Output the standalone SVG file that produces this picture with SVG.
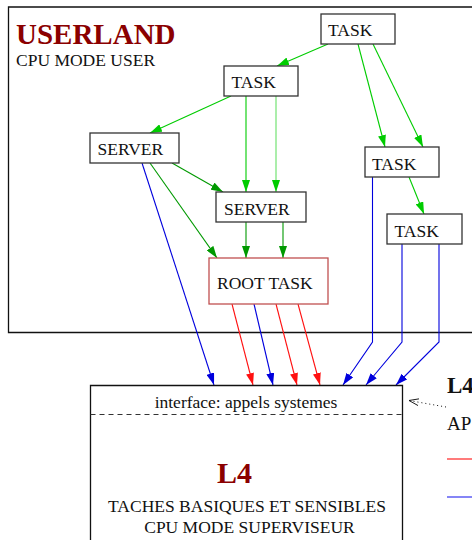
<svg xmlns="http://www.w3.org/2000/svg" width="472" height="540" viewBox="0 0 472 540">
<style>
text{font-family:"Liberation Serif","Times New Roman",serif;fill:#111}
.lbl{font-size:17.5px}
.box{fill:#fff;stroke:#333;stroke-width:1.3}
.title{font-weight:bold;fill:#8b0000}
.e{fill:none;stroke-width:1.1}
.g{stroke:#00cc00}
.lg{stroke:#66e066}
.dg{stroke:#009900}
.b{stroke:#0000dd}
.r{stroke:#ff1010}
</style>
<defs>
<marker id="ag" viewBox="0 0 12 8" refX="12" refY="4" markerWidth="12" markerHeight="8" markerUnits="userSpaceOnUse" orient="auto"><path d="M0,0L12,4L0,8z" fill="#00cc00"/></marker>
<marker id="alg" viewBox="0 0 12 8" refX="12" refY="4" markerWidth="12" markerHeight="8" markerUnits="userSpaceOnUse" orient="auto"><path d="M0,0L12,4L0,8z" fill="#44dd44"/></marker>
<marker id="adg" viewBox="0 0 12 8" refX="12" refY="4" markerWidth="12" markerHeight="8" markerUnits="userSpaceOnUse" orient="auto"><path d="M0,0L12,4L0,8z" fill="#009900"/></marker>
<marker id="ab" viewBox="0 0 12 8" refX="12" refY="4" markerWidth="12" markerHeight="8" markerUnits="userSpaceOnUse" orient="auto"><path d="M0,0L12,4L0,8z" fill="#0000dd"/></marker>
<marker id="ar" viewBox="0 0 12 8" refX="12" refY="4" markerWidth="12" markerHeight="8" markerUnits="userSpaceOnUse" orient="auto"><path d="M0,0L12,4L0,8z" fill="#ff1010"/></marker>
<marker id="aopen" viewBox="0 0 10 8" refX="10" refY="4" markerWidth="10" markerHeight="8" markerUnits="userSpaceOnUse" orient="auto"><path d="M0,0.5L10,4L0,7.5" fill="none" stroke="#111" stroke-width="0.9"/></marker>
</defs>

<g id="userland">
<path d="M472,7H8.5V332.5H472" fill="none" stroke="#111" stroke-width="1.3"/>
<text x="16" y="44" class="title" font-size="29">USERLAND</text>
<text x="16" y="65.5" class="lbl">CPU MODE USER</text>
</g>

<g id="connectors">
<line class="e g" x1="328" y1="44" x2="277" y2="66" marker-end="url(#ag)"/>
<line class="e g" x1="358" y1="44" x2="385" y2="147" marker-end="url(#ag)"/>
<line class="e g" x1="373" y1="44" x2="423" y2="147" marker-end="url(#ag)"/>
<line class="e g" x1="231" y1="96" x2="150" y2="133" marker-end="url(#ag)"/>
<line class="e g" x1="246" y1="96" x2="246" y2="192" marker-end="url(#ag)"/>
<line class="e lg" x1="276" y1="96" x2="276" y2="192" marker-end="url(#ag)"/>
<line class="e dg" x1="172" y1="163" x2="223" y2="192" marker-end="url(#adg)"/>
<line class="e dg" x1="150" y1="163" x2="217" y2="258" marker-end="url(#adg)"/>
<line class="e dg" x1="246" y1="222" x2="246" y2="258" marker-end="url(#adg)"/>
<line class="e dg" x1="283" y1="222" x2="283" y2="258" marker-end="url(#adg)"/>
<line class="e g" x1="409" y1="177" x2="424" y2="214" marker-end="url(#ag)"/>
<line class="e b" x1="142" y1="163" x2="214" y2="385" marker-end="url(#ab)"/>
<line class="e r" x1="232" y1="304" x2="253" y2="385" marker-end="url(#ar)"/>
<line class="e b" x1="254" y1="304" x2="273" y2="385" marker-end="url(#ab)"/>
<line class="e r" x1="276" y1="304" x2="297" y2="385" marker-end="url(#ar)"/>
<line class="e r" x1="298" y1="304" x2="320" y2="385" marker-end="url(#ar)"/>
<polyline class="e b" points="372.5,177 372.5,342 343,385" marker-end="url(#ab)"/>
<polyline class="e b" points="402,244 402,342 366,385" marker-end="url(#ab)"/>
<polyline class="e b" points="439,244 439,342 396,385" marker-end="url(#ab)"/>
<line x1="446" y1="407" x2="409" y2="400.5" fill="none" stroke="#111" stroke-width="1" stroke-dasharray="1,3" marker-end="url(#aopen)"/>
</g>

<g id="task1"><rect class="box" x="321" y="14" width="74" height="30"/><text x="328" y="36" class="lbl">TASK</text></g>
<g id="task2"><rect class="box" x="224" y="66" width="74" height="30"/><text x="231.5" y="88" class="lbl">TASK</text></g>
<g id="server1"><rect class="box" x="90" y="133" width="89" height="30"/><text x="97.5" y="155" class="lbl">SERVER</text></g>
<g id="server2"><rect class="box" x="216" y="192" width="90" height="30"/><text x="224" y="215" class="lbl">SERVER</text></g>
<g id="roottask"><rect x="209" y="258" width="119" height="46" fill="#fff" stroke="#c05050" stroke-width="1.3"/><text x="217" y="289" class="lbl">ROOT TASK</text></g>
<g id="task3"><rect class="box" x="365" y="147" width="74" height="30"/><text x="372" y="170" class="lbl">TASK</text></g>
<g id="task4"><rect class="box" x="387" y="214" width="75" height="30"/><text x="394.5" y="237" class="lbl">TASK</text></g>

<g id="l4">
<path d="M90.5,540V385.5H402.5V540" fill="none" stroke="#111" stroke-width="1.3"/>
<line x1="90.5" y1="414.5" x2="402.5" y2="414.5" stroke="#333" stroke-width="1.1" stroke-dasharray="5,4"/>
<text x="246" y="408" class="lbl" text-anchor="middle">interface: appels systemes</text>
<text x="234" y="483" class="title" font-size="30" text-anchor="middle" style="text-anchor:start" dx="-17">L4</text>
<text x="247" y="512" class="lbl" text-anchor="middle">TACHES BASIQUES ET SENSIBLES</text>
<text x="249.5" y="533" class="lbl" text-anchor="middle">CPU MODE SUPERVISEUR</text>
</g>

<g id="legend">
<text x="447" y="393" font-size="23" font-weight="bold">L4</text>
<text x="447" y="430" font-size="19">AP</text>
<line x1="447" y1="459" x2="472" y2="459" stroke="#ff1010" stroke-width="1.1"/>
<line x1="447" y1="497" x2="472" y2="497" stroke="#2222ee" stroke-width="1.1"/>
</g>
</svg>
